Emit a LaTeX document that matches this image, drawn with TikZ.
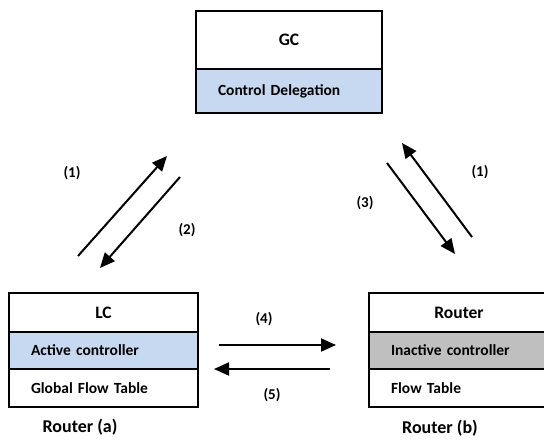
\documentclass[tikz,border=0pt]{standalone}
\usepackage{fontspec}
\setmainfont{Carlito}
\usetikzlibrary{arrows.meta}
\definecolor{rowblue}{RGB}{198,217,240}
\definecolor{rowgray}{RGB}{191,191,191}
\tikzset{
  cell/.style={draw=black, line width=2pt, anchor=north west, inner sep=0pt,
    font=\fontsize{15.5}{18}\selectfont\bfseries},
  headcell/.style={cell, font=\fontsize{17.5}{20}\selectfont\bfseries},
  textcell/.style={cell, align=left, inner xsep=22pt, inner ysep=0pt},
  msg/.style={line width=2pt, -{Triangle[length=15pt,width=13pt]}},
  tag/.style={font=\fontsize{15}{18}\selectfont\bfseries},
  caption/.style={font=\fontsize{18}{21}\selectfont\bfseries}
}
\begin{document}
\begin{tikzpicture}[x=1pt,y=-1pt]
\useasboundingbox (0,0) rectangle (544,441);

% Global controller
\node[headcell, minimum width=186pt, minimum height=58pt] (gchead) at (195,10) {GC};
\node[textcell, fill=rowblue, text width=142pt, minimum height=44pt] (gcdel) at (195,68) {Control Delegation};

% Router (a): local controller
\node[headcell, minimum width=189pt, minimum height=39pt] (lchead) at (8,292) {LC};
\node[textcell, fill=rowblue, text width=145pt, minimum height=37pt] (lcact) at (8,331) {Active controller};
\node[textcell, text width=145pt, minimum height=38pt] (lcflow) at (8,368) {Global Flow Table};
\node[caption] (capa) at (80,427) {Router (a)};

% Router (b)
\node[headcell, minimum width=180pt, minimum height=39pt] (rbhead) at (368,292) {Router};
\node[textcell, fill=rowgray, text width=136pt, minimum height=37pt] (rbinact) at (368,331) {Inactive controller};
\node[textcell, text width=136pt, minimum height=38pt] (rbflow) at (368,368) {Flow Table};
\node[caption] (capb) at (440,428) {Router (b)};

% Arrow end points
\coordinate (a1s) at (78,256);  \coordinate (a1e) at (167,156);
\coordinate (a2s) at (180,177); \coordinate (a2e) at (100,268);
\coordinate (b1s) at (472,237); \coordinate (b1e) at (402,143);
\coordinate (b3s) at (387,163); \coordinate (b3e) at (455,254);
\coordinate (c4s) at (219,345); \coordinate (c4e) at (336,345);
\coordinate (c5s) at (330,369); \coordinate (c5e) at (214,369);

% Messages
\draw[msg] (a1s) -- (a1e);
\draw[msg] (a2s) -- (a2e);
\draw[msg] (b1s) -- (b1e);
\draw[msg] (b3s) -- (b3e);
\draw[msg] (c4s) -- (c4e);
\draw[msg] (c5s) -- (c5e);

% Message numbers
\node[tag] (t1a) at (72,173) {(1)};
\node[tag] (t2) at (187,230) {(2)};
\node[tag] (t1b) at (480,172) {(1)};
\node[tag] (t3) at (365,203) {(3)};
\node[tag] (t4) at (264,319) {(4)};
\node[tag] (t5) at (272,395) {(5)};
\end{tikzpicture}
\end{document}
